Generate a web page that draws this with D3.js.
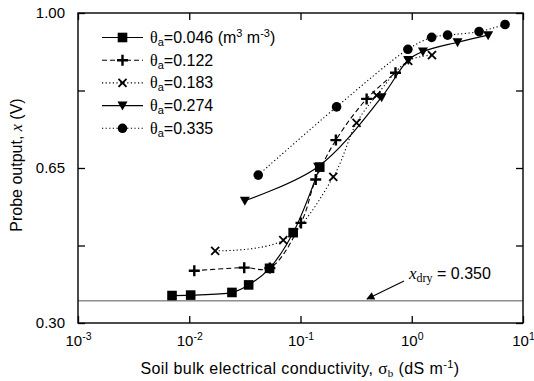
<!DOCTYPE html>
<html>
<head>
<meta charset="utf-8">
<script src="https://cdn.jsdelivr.net/npm/d3@7"></script>
<style>
  body { margin: 0; background: #fff; }
  svg { display: block; font-family: Arial, "Liberation Sans", sans-serif; }
</style>
</head>
<body>
<svg id="chart" width="534" height="381"></svg>
<script>
// Probe output vs soil bulk electrical conductivity, for five water contents
const thetaLabels = ["0.046", "0.122", "0.183", "0.274", "0.335"];
const sigma046 = [0.0070, 0.0103, 0.0242, 0.0342, 0.0527, 0.0859, 0.149];
const probe046 = [0.362, 0.363, 0.369, 0.386, 0.4235, 0.504, 0.652];
const sigma122 = [0.0111, 0.0312, 0.053, 0.101, 0.137, 0.208, 0.393, 0.714];
const probe122 = [0.418, 0.425, 0.424, 0.526, 0.624, 0.713, 0.806, 0.865];
const sigma183 = [0.0171, 0.070, 0.197, 0.319, 0.483, 0.929, 1.52];
const probe183 = [0.463, 0.487, 0.630, 0.752, 0.814, 0.892, 0.905];
const sigma274 = [0.0316, 0.144, 0.536, 0.93, 1.26, 2.58, 4.86];
const probe274 = [0.576, 0.653, 0.810, 0.894, 0.913, 0.934, 0.950];
const sigma335 = [0.0417, 0.211, 0.923, 1.51, 2.10, 4.03, 6.90];
const probe335 = [0.634, 0.788, 0.918, 0.945, 0.950, 0.958, 0.974];
const xTickExps = [-3, -2, -1, 0, 1];
const yMajorTicks = [0.30, 0.65, 1.00];
const yMinorTicks = [0.475, 0.825];
const xDry = 0.350;

const sigmaSets = [sigma046, sigma122, sigma183, sigma274, sigma335];
const probeSets = [probe046, probe122, probe183, probe274, probe335];
const markers = ["square", "plus", "cross", "triangle", "circle"];
const dashes = [null, "5,3", "1.2,2.4", null, "1.2,2.4"];

const series = sigmaSets.map((s, i) => ({
  label: thetaLabels[i],
  marker: markers[i],
  dash: dashes[i],
  points: s.map((v, j) => ({ s: v, p: probeSets[i][j] }))
}));

const SERIF = "'Liberation Serif', 'Times New Roman', serif";
const svg = d3.select("#chart");
const L = 78, R = 523, T = 13, B = 323;
const x = d3.scaleLog().domain([1e-3, 10]).range([L, R]);
const y = d3.scaleLinear().domain([0.30, 1.00]).range([B, T]);

// x_dry reference line
svg.append("line")
  .attr("x1", L).attr("x2", R)
  .attr("y1", y(xDry)).attr("y2", y(xDry))
  .attr("stroke", "#555").attr("stroke-width", 1);

// curves
const line = d3.line()
  .x(d => x(d.s)).y(d => y(d.p))
  .curve(d3.curveCatmullRom.alpha(0.5));

series.forEach(sr => {
  svg.append("path")
    .datum(sr.points)
    .attr("d", line)
    .attr("fill", "none")
    .attr("stroke", "#000")
    .attr("stroke-width", sr.dash ? 1.1 : 1.2)
    .attr("stroke-dasharray", sr.dash);
});

// marker drawing
function drawMarker(g, type, cx, cy) {
  if (type === "square") {
    g.append("rect").attr("x", cx - 4.8).attr("y", cy - 4.8)
      .attr("width", 9.6).attr("height", 9.6).attr("fill", "#000");
  } else if (type === "plus") {
    g.append("path")
      .attr("d", `M${cx - 5.5},${cy}H${cx + 5.5}M${cx},${cy - 5.5}V${cy + 5.5}`)
      .attr("stroke", "#000").attr("stroke-width", 2.4);
  } else if (type === "cross") {
    g.append("path")
      .attr("d", `M${cx - 4},${cy - 4}L${cx + 4},${cy + 4}M${cx - 4},${cy + 4}L${cx + 4},${cy - 4}`)
      .attr("stroke", "#000").attr("stroke-width", 1.8);
  } else if (type === "triangle") {
    g.append("path")
      .attr("d", `M${cx - 5},${cy - 4}L${cx + 5},${cy - 4}L${cx},${cy + 5}Z`)
      .attr("fill", "#000");
  } else {
    g.append("circle").attr("cx", cx).attr("cy", cy).attr("r", 4.8).attr("fill", "#000");
  }
}

series.forEach(sr => {
  const g = svg.append("g");
  sr.points.forEach(d => drawMarker(g, sr.marker, x(d.s), y(d.p)));
});

// frame
svg.append("rect")
  .attr("x", L).attr("y", T).attr("width", R - L).attr("height", B - T)
  .attr("fill", "none").attr("stroke", "#000").attr("stroke-width", 1.4);

// axes with inward ticks
const xTickVals = xTickExps.map(e => Math.pow(10, e));
const xAxisB = svg.append("g").attr("transform", `translate(0,${B})`)
  .call(d3.axisBottom(x).tickValues(xTickVals).tickSize(-7).tickPadding(12));
svg.append("g").attr("transform", `translate(0,${T})`)
  .call(d3.axisTop(x).tickValues(xTickVals).tickSize(-7).tickFormat(""));
const yAxisL = svg.append("g").attr("transform", `translate(${L},0)`)
  .call(d3.axisLeft(y).tickValues(yMajorTicks.concat(yMinorTicks)).tickSize(-7).tickPadding(13)
    .tickFormat(v => yMajorTicks.includes(v) ? d3.format(".2f")(v) : ""));
svg.append("g").attr("transform", `translate(${R},0)`)
  .call(d3.axisRight(y).tickValues(yMajorTicks.concat(yMinorTicks)).tickSize(-7).tickFormat(""));

svg.selectAll(".domain").remove();
svg.selectAll(".tick line").attr("stroke", "#000").attr("stroke-width", 1.3);

yAxisL.selectAll("text").attr("font-size", 15).attr("fill", "#000")
  .attr("font-family", "Arial, 'Liberation Sans', sans-serif");

xAxisB.selectAll(".tick text").each(function(d, i) {
  const t = d3.select(this);
  t.text(null).attr("font-size", 15).attr("fill", "#000")
    .attr("font-family", "Arial, 'Liberation Sans', sans-serif");
  t.append("tspan").text("10");
  t.append("tspan").attr("font-size", 10.5).attr("dy", -6).text(String(xTickExps[i]));
});

// axis titles
const xt = svg.append("text")
  .attr("x", 300).attr("y", 374).attr("text-anchor", "middle")
  .attr("font-size", 16).attr("letter-spacing", 0.4).attr("fill", "#000");
xt.append("tspan").text("Soil bulk electrical conductivity,  ");
xt.append("tspan").attr("font-family", SERIF).attr("font-size", 17).text("σ");
xt.append("tspan").attr("font-family", SERIF).attr("font-size", 11).attr("dy", 3).text("b");
xt.append("tspan").attr("dy", -3).text(" (dS m");
xt.append("tspan").attr("font-size", 11).attr("dy", -6).text("-1");
xt.append("tspan").attr("dy", 6).text(")");

const yt = svg.append("text")
  .attr("transform", "translate(22,165) rotate(-90)")
  .attr("text-anchor", "middle").attr("font-size", 16).attr("fill", "#000");
yt.append("tspan").text("Probe output,  ");
yt.append("tspan").attr("font-family", SERIF).attr("font-style", "italic").text("x");
yt.append("tspan").text(" (V)");

// x_dry annotation
const defs = svg.append("defs");
defs.append("marker").attr("id", "arrowhead")
  .attr("viewBox", "0 0 10 10").attr("refX", 9).attr("refY", 5)
  .attr("markerWidth", 11).attr("markerHeight", 8).attr("markerUnits", "userSpaceOnUse")
  .attr("orient", "auto")
  .append("path").attr("d", "M0,0L10,5L0,10Z").attr("fill", "#000");
svg.append("line")
  .attr("x1", 404).attr("y1", 281).attr("x2", 367).attr("y2", 299)
  .attr("stroke", "#000").attr("stroke-width", 1.1)
  .attr("marker-end", "url(#arrowhead)");
const at = svg.append("text").attr("x", 409).attr("y", 279).attr("font-size", 16).attr("fill", "#000");
at.append("tspan").attr("font-family", SERIF).attr("font-style", "italic").attr("font-size", 17).text("x");
at.append("tspan").attr("font-family", SERIF).attr("font-size", 12).attr("dy", 3).text("dry");
at.append("tspan").attr("dy", -3).text(" = " + d3.format(".3f")(xDry));

// legend
const legend = svg.append("g");
series.forEach((sr, i) => {
  const ly = 37.5 + i * 22.7;
  legend.append("line")
    .attr("x1", 102).attr("x2", 143).attr("y1", ly).attr("y2", ly)
    .attr("stroke", "#000").attr("stroke-width", sr.dash ? 1.1 : 1.2)
    .attr("stroke-dasharray", sr.dash);
  drawMarker(legend, sr.marker, 122.5, ly);
  const t = legend.append("text").attr("x", 150).attr("y", ly + 5.5)
    .attr("font-size", 16).attr("fill", "#000");
  t.append("tspan").attr("font-family", SERIF).attr("font-size", 16).text("θ");
  t.append("tspan").attr("font-size", 11).attr("dy", 3).text("a");
  t.append("tspan").attr("dy", -3).text("=" + sr.label);
  if (i === 0) {
    t.append("tspan").text(" (m");
    t.append("tspan").attr("font-size", 11).attr("dy", -6).text("3");
    t.append("tspan").attr("dy", 6).text(" m");
    t.append("tspan").attr("font-size", 11).attr("dy", -6).text("-3");
    t.append("tspan").attr("dy", 6).text(")");
  }
});
</script>
</body>
</html>
